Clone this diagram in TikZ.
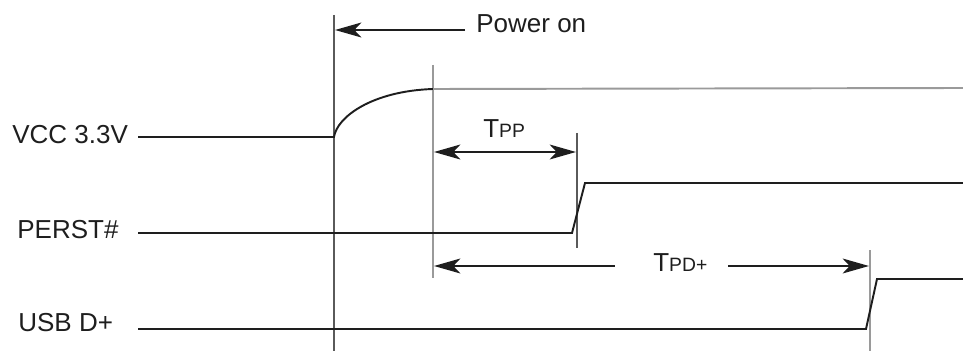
\documentclass[tikz,border=0pt]{standalone}
\usepackage{fontspec}
\setmainfont{Liberation Sans}
\usetikzlibrary{arrows.meta, positioning, calc}
\definecolor{WaveInk}{HTML}{1E1E1E}
\definecolor{EdgeGray}{HTML}{5A5A5A}
\definecolor{SoftGray}{HTML}{9A9A9A}

\newcommand{\timing}[2]{#1{\fontsize{11}{13}\selectfont #2}}

\begin{document}
\begin{tikzpicture}[x=0.02cm, y=-0.02cm, >={Stealth[length=15pt,width=8.5pt,inset=4pt]},
    wave/.style={color=WaveInk, line width=1.1pt},
    marker/.style={color=EdgeGray, line width=1.1pt},
    softmarker/.style={color=SoftGray, line width=1.1pt},
    span/.style={color=WaveInk, line width=1.1pt},
    siglabel/.style={font=\fontsize{14.8}{16}\selectfont, color=WaveInk, anchor=base west, inner sep=0pt}]
    \useasboundingbox (0,0) rectangle (963,351);

    % 1. Time markers (vertical lines)
    \coordinate (pon-top) at (334,15);
    \coordinate (pon-bot) at (334,351);
    \coordinate (stable-top) at (433,65);
    \coordinate (stable-bot) at (433,278);
    \coordinate (perst-top) at (577,133);
    \coordinate (perst-bot) at (577,248);
    \coordinate (usb-top) at (870,250);
    \coordinate (usb-bot) at (870,351);
    \draw[marker] (pon-top) -- (pon-bot);
    \draw[softmarker] (stable-top) -- (stable-bot);
    \draw[marker] (perst-top) -- (perst-bot);
    \draw[softmarker] (usb-top) -- (usb-bot);

    % 2. Power on
    \node[siglabel] (pon-text) at (476,33) {Power on};
    \coordinate (pon-tail) at (465,30);
    \coordinate (pon-head) at (335,30);
    \draw[->, span] (pon-tail) -- (pon-head);

    % 3. VCC 3.3V
    \node[siglabel] (lbl-vcc) at (12,144) {VCC 3.3V};
    \coordinate (vcc-a) at (138,137);
    \coordinate (vcc-b) at (334,137);
    \coordinate (vcc-c) at (433,89);
    \coordinate (vcc-d) at (963,88);
    \draw[wave] (vcc-a) -- (vcc-b) .. controls (337,117) and (372,91) .. (vcc-c);
    \draw[softmarker] (vcc-c) -- (vcc-d);

    % 4. PERST#
    \node[siglabel] (lbl-perst) at (17,238) {PERST\#};
    \coordinate (perst-a) at (138,233);
    \coordinate (perst-b) at (572,233);
    \coordinate (perst-c) at (585,183);
    \coordinate (perst-d) at (963,183);
    \draw[wave] (perst-a) -- (perst-b) -- (perst-c) -- (perst-d);

    % 5. USB D+
    \node[siglabel] (lbl-usb) at (18,331) {USB D+};
    \coordinate (usb-a) at (138,329);
    \coordinate (usb-b) at (866,329);
    \coordinate (usb-c) at (877,279);
    \coordinate (usb-d) at (963,279);
    \draw[wave] (usb-a) -- (usb-b) -- (usb-c) -- (usb-d);

    % 6. Tpp span
    \node[siglabel] (tpp-text) at (483,138) {\timing{T}{PP}};
    \coordinate (tpp-l) at (434,152);
    \coordinate (tpp-r) at (576,152);
    \draw[<->, span] (tpp-l) -- (tpp-r);

    % 7. Tpd+ span
    \node[siglabel] (tpd-text) at (653,272) {\timing{T}{PD+}};
    \coordinate (tpd-l) at (434,266);
    \coordinate (tpd-gl) at (615,266);
    \coordinate (tpd-gr) at (728,266);
    \coordinate (tpd-r) at (869,266);
    \draw[<-, span] (tpd-l) -- (tpd-gl);
    \draw[->, span] (tpd-gr) -- (tpd-r);
\end{tikzpicture}
\end{document}
